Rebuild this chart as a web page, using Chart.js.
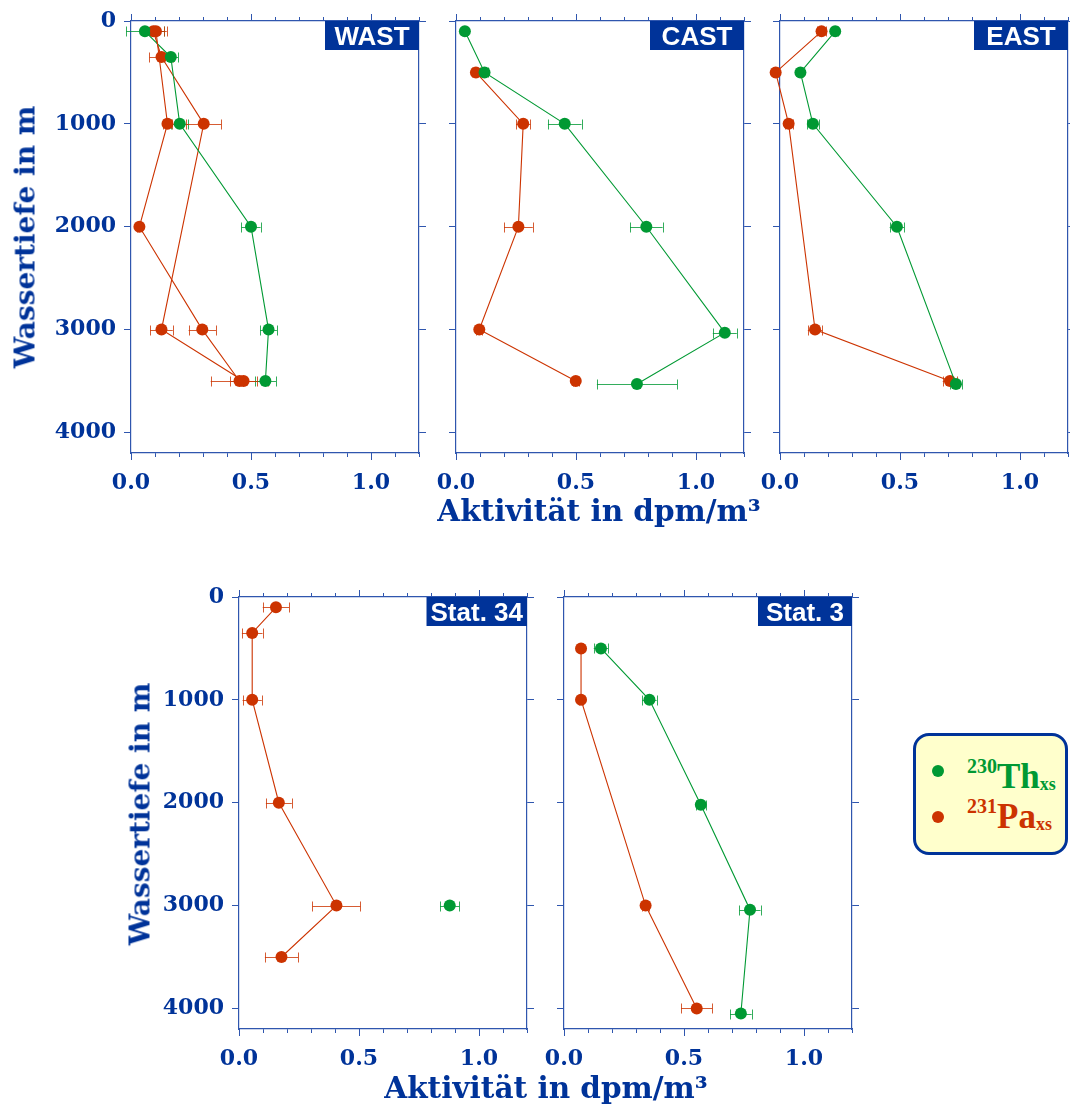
<!DOCTYPE html>
<html>
<head>
<meta charset="utf-8">
<title>230Th / 231Pa Profile</title>
<script src="https://cdn.jsdelivr.net/npm/chart.js@4.4.1/dist/chart.umd.min.js"></script>
<style>
    body {
        margin: 0;
        width: 1070px;
        height: 1106px;
        position: relative;
        overflow: hidden;
        background: #ffffff;
    }
    .panel {
        position: absolute;
    }
    .axis-title {
        position: absolute;
        color: #003399;
        font: bold 28px "DejaVu Serif", serif;
        white-space: nowrap;
        z-index: 2;
    }
    .axis-title.y {
        transform: translate(-50%, -50%) rotate(-90deg);
    }
    .axis-title.x {
        font-size: 29.5px;
        transform: translate(-50%, -50%);
    }
    #legend {
        position: absolute;
        left: 913px;
        top: 733px;
        width: 149px;
        height: 116px;
        border: 3px solid #003399;
        border-radius: 16px;
        background: #ffffcc;
        z-index: 2;
    }
    #legend .dot {
        position: absolute;
        width: 12px;
        height: 12px;
        border-radius: 50%;
    }
    #legend .iso {
        position: absolute;
        left: 51px;
        font: bold 35px "Liberation Serif", serif;
        line-height: 34px;
        white-space: nowrap;
    }
    #legend .sup {
        position: relative;
        top: -15px;
        font-size: 20px;
    }
    #legend .sub {
        position: relative;
        top: 2px;
        font-size: 18px;
    }
</style>
</head>
<body>

<div class="axis-title y" style="left:25px; top:237px;">Wassertiefe in m</div>
<div class="axis-title x" style="left:599px; top:510px;">Aktivität in dpm/m³</div>
<div class="axis-title y" style="left:140px; top:814px;">Wassertiefe in m</div>
<div class="axis-title x" style="left:546px; top:1087px;">Aktivität in dpm/m³</div>

<div id="legend">
    <div class="dot" style="left:16px; top:29px; background:#009933;"></div>
    <div class="iso" style="top:24px; color:#009933;"><span class="sup">230</span>Th<span class="sub">xs</span></div>
    <div class="dot" style="left:16px; top:75px; background:#cc3300;"></div>
    <div class="iso" style="top:64px; color:#cc3300;"><span class="sup">231</span>Pa<span class="sub">xs</span></div>
</div>

<script>
// Achsen
const xTickValues = [0, 0.1, 0.2, 0.3, 0.4, 0.5, 0.6, 0.7, 0.8, 0.9, 1.0, 1.1, 1.2];
const xLabelValues = [0, 0.5, 1.0];
const yTickValues = [0, 1000, 2000, 3000, 4000];

// WAST
const wastThDepth = [100, 350, 1000, 2000, 3000, 3500];
const wastThValue = [0.058, 0.166, 0.203, 0.50, 0.573, 0.56];
const wastThError = [0.078, 0.03, 0.035, 0.04, 0.035, 0.044];
const wastPaADepth = [100, 350, 1000, 3000, 3500];
const wastPaAValue = [0.093, 0.127, 0.303, 0.127, 0.469];
const wastPaAError = [0.045, 0.05, 0.073, 0.047, 0.057];
const wastPaBDepth = [100, 1000, 2000, 3000, 3500];
const wastPaBValue = [0.104, 0.152, 0.035, 0.297, 0.452];
const wastPaBError = [0.045, 0.02, 0.01, 0.057, 0.12];

// CAST
const castThDepth = [100, 500, 1000, 2000, 3030, 3530];
const castThValue = [0.037, 0.119, 0.453, 0.793, 1.12, 0.754];
const castThError = [0.005, 0.015, 0.07, 0.068, 0.05, 0.167];
const castPaDepth = [500, 1000, 2000, 3000, 3500];
const castPaValue = [0.083, 0.28, 0.26, 0.097, 0.499];
const castPaError = [0.015, 0.03, 0.06, 0.012, 0.012];

// EAST
const eastThDepth = [100, 500, 1000, 2000, 3530];
const eastThValue = [0.23, 0.085, 0.137, 0.487, 0.733];
const eastThError = [0.01, 0.01, 0.025, 0.03, 0.025];
const eastPaDepth = [100, 500, 1000, 3000, 3500];
const eastPaValue = [0.173, -0.018, 0.036, 0.146, 0.708];
const eastPaError = [0.02, 0.01, 0.017, 0.03, 0.03];

// Stat. 34
const st34ThDepth = [3000];
const st34ThValue = [0.878];
const st34ThError = [0.04];
const st34PaDepth = [100, 350, 1000, 2000, 3000, 3500];
const st34PaValue = [0.154, 0.055, 0.055, 0.166, 0.406, 0.177];
const st34PaError = [0.055, 0.043, 0.04, 0.054, 0.1, 0.069];

// Stat. 3
const st3ThDepth = [500, 1000, 2020, 3040, 4050];
const st3ThValue = [0.154, 0.356, 0.57, 0.775, 0.737];
const st3ThError = [0.03, 0.03, 0.02, 0.044, 0.045];
const st3PaDepth = [500, 1000, 3000, 4000];
const st3PaValue = [0.071, 0.071, 0.34, 0.553];
const st3PaError = [0.01, 0.01, 0.015, 0.065];

const thColor = '#009933';
const paColor = '#cc3300';
const navy = '#003399';
const frameColor = '#2f56ae';

const PLOT_W = 288;
const PLOT_H = 432;
const PAD_T = 14;
const PAD_R = 14;
const PAD_B = 48;

function series(depth, value, error, color) {
    return {
        data: depth.map((d, i) => ({ x: value[i], y: d, e: error[i] })),
        showLine: true,
        borderColor: color,
        backgroundColor: color,
        borderWidth: 1.1,
        pointRadius: 6,
        pointBorderWidth: 0,
        pointHoverRadius: 6,
        errorColor: color === thColor ? 'rgba(0,153,51,0.8)' : 'rgba(204,51,0,0.8)',
        clip: false
    };
}

// horizontale Fehlerbalken
const errorBars = {
    id: 'errorBars',
    beforeDatasetsDraw(chart) {
        const ctx = chart.ctx;
        const xs = chart.scales.x;
        const ys = chart.scales.y;
        chart.data.datasets.forEach(ds => {
            ctx.save();
            ctx.strokeStyle = ds.errorColor;
            ctx.lineWidth = 1;
            ds.data.forEach(p => {
                const x1 = xs.getPixelForValue(p.x - p.e);
                const x2 = xs.getPixelForValue(p.x + p.e);
                const y = Math.round(ys.getPixelForValue(p.y)) + 0.5;
                ctx.beginPath();
                ctx.moveTo(x1, y);
                ctx.lineTo(x2, y);
                ctx.moveTo(Math.round(x1) + 0.5, y - 5);
                ctx.lineTo(Math.round(x1) + 0.5, y + 5);
                ctx.moveTo(Math.round(x2) + 0.5, y - 5);
                ctx.lineTo(Math.round(x2) + 0.5, y + 5);
                ctx.stroke();
            });
            ctx.restore();
        });
    }
};

// laengere Hauptstriche an den x-Achsen + Stationsname
const panelDecor = {
    id: 'panelDecor',
    afterDraw(chart, args, opts) {
        const ctx = chart.ctx;
        const area = chart.chartArea;
        ctx.save();
        ctx.strokeStyle = frameColor;
        ctx.lineWidth = 1;
        xLabelValues.forEach(v => {
            const px = Math.round(chart.scales.x.getPixelForValue(v)) + 0.5;
            ctx.beginPath();
            ctx.moveTo(px, area.bottom);
            ctx.lineTo(px, area.bottom + 7);
            ctx.moveTo(px, area.top);
            ctx.lineTo(px, area.top - 7);
            ctx.stroke();
        });

        ctx.font = 'bold 26px "Liberation Sans", Arial, sans-serif';
        const tw = ctx.measureText(opts.label).width;
        const bw = Math.max(94, tw + 8);
        const bh = 29;
        ctx.fillStyle = navy;
        ctx.fillRect(area.right - bw, area.top, bw, bh);
        ctx.fillStyle = '#ffffff';
        ctx.textAlign = 'center';
        ctx.textBaseline = 'alphabetic';
        ctx.fillText(opts.label, area.right - bw / 2, area.top + 24);
        ctx.restore();
    }
};

function fixSize(prop, size) {
    return function(scale) {
        scale[prop] = size;
        scale.paddingLeft = 0;
        scale.paddingRight = 0;
        scale.paddingTop = 0;
        scale.paddingBottom = 0;
    };
}

function setTicks(values) {
    return function(scale) {
        scale.ticks = values.map(v => ({ value: v }));
    };
}

function makePanel(cfg) {
    const padL = cfg.yLabels ? cfg.labelSpace : 30;
    const wrap = document.createElement('div');
    wrap.className = 'panel';
    wrap.style.left = (cfg.left - padL) + 'px';
    wrap.style.top = (cfg.top - PAD_T) + 'px';
    const canvas = document.createElement('canvas');
    canvas.width = padL + PLOT_W + PAD_R;
    canvas.height = PAD_T + PLOT_H + PAD_B;
    wrap.appendChild(canvas);
    document.body.appendChild(wrap);

    const tickFont = { family: '"DejaVu Serif", serif', size: 22, weight: 'bold' };
    const border = { display: true, color: frameColor, width: 1.2 };

    return new Chart(canvas, {
        type: 'scatter',
        data: { datasets: cfg.datasets },
        options: {
            responsive: false,
            animation: false,
            events: [],
            layout: { padding: 0 },
            plugins: {
                legend: { display: false },
                tooltip: { enabled: false },
                panelDecor: { label: cfg.label }
            },
            scales: {
                x: {
                    type: 'linear',
                    position: 'bottom',
                    min: 0,
                    max: 1.2,
                    afterBuildTicks: setTicks(xTickValues),
                    afterFit: fixSize('height', PAD_B),
                    border: border,
                    grid: { drawOnChartArea: false, tickLength: 4, tickColor: frameColor },
                    ticks: {
                        padding: 13,
                        maxRotation: 0,
                        autoSkip: false,
                        color: navy,
                        font: tickFont,
                        callback: v => xLabelValues.some(m => Math.abs(m - v) < 1e-6) ? v.toFixed(1) : ''
                    }
                },
                x2: {
                    type: 'linear',
                    position: 'top',
                    min: 0,
                    max: 1.2,
                    afterBuildTicks: setTicks(xTickValues),
                    afterFit: fixSize('height', PAD_T),
                    border: border,
                    grid: { drawOnChartArea: false, tickLength: 4, tickColor: frameColor },
                    ticks: { display: false }
                },
                y: {
                    type: 'linear',
                    position: 'left',
                    reverse: true,
                    min: 0,
                    max: 4200,
                    afterBuildTicks: setTicks(yTickValues),
                    afterFit: fixSize('width', padL),
                    border: border,
                    grid: { drawOnChartArea: false, tickLength: 7, tickColor: frameColor },
                    ticks: {
                        display: cfg.yLabels,
                        padding: 8,
                        autoSkip: false,
                        color: navy,
                        font: tickFont,
                        callback: v => String(v)
                    }
                },
                y2: {
                    type: 'linear',
                    position: 'right',
                    reverse: true,
                    min: 0,
                    max: 4200,
                    afterBuildTicks: setTicks(yTickValues),
                    afterFit: fixSize('width', PAD_R),
                    border: border,
                    grid: { drawOnChartArea: false, tickLength: 7, tickColor: frameColor },
                    ticks: { display: false }
                }
            }
        },
        plugins: [errorBars, panelDecor]
    });
}

// Reihenfolge: erster Datensatz liegt oben
makePanel({
    label: 'WAST', left: 131, top: 21, yLabels: true, labelSpace: 131,
    datasets: [
        series(wastPaBDepth, wastPaBValue, wastPaBError, paColor),
        series(wastThDepth, wastThValue, wastThError, thColor),
        series(wastPaADepth, wastPaAValue, wastPaAError, paColor)
    ]
});
makePanel({
    label: 'CAST', left: 456, top: 21, yLabels: false,
    datasets: [
        series(castThDepth, castThValue, castThError, thColor),
        series(castPaDepth, castPaValue, castPaError, paColor)
    ]
});
makePanel({
    label: 'EAST', left: 780, top: 21, yLabels: false,
    datasets: [
        series(eastThDepth, eastThValue, eastThError, thColor),
        series(eastPaDepth, eastPaValue, eastPaError, paColor)
    ]
});
makePanel({
    label: 'Stat. 34', left: 239, top: 597, yLabels: true, labelSpace: 100,
    datasets: [
        series(st34ThDepth, st34ThValue, st34ThError, thColor),
        series(st34PaDepth, st34PaValue, st34PaError, paColor)
    ]
});
makePanel({
    label: 'Stat. 3', left: 564, top: 597, yLabels: false,
    datasets: [
        series(st3ThDepth, st3ThValue, st3ThError, thColor),
        series(st3PaDepth, st3PaValue, st3PaError, paColor)
    ]
});
</script>
</body>
</html>
